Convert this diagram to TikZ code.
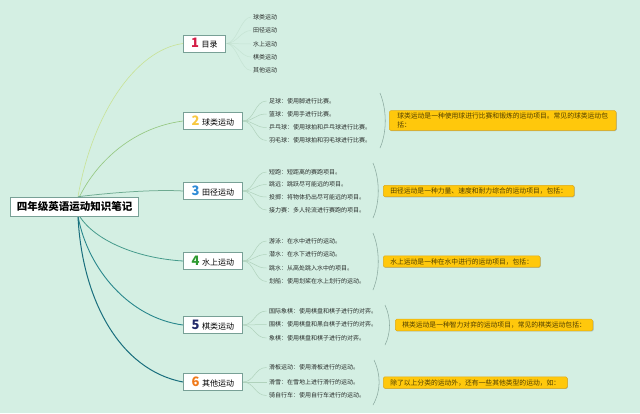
\documentclass[tikz,border=0pt]{standalone}
\usepackage{fontspec}
\setmainfont{Noto Sans CJK SC}
\usetikzlibrary{shadows}
\definecolor{bgc}{RGB}{212,239,227}
\definecolor{boxline}{RGB}{120,160,150}
\definecolor{leaftext}{RGB}{40,44,42}
\definecolor{calloutfill}{RGB}{255,200,12}
\definecolor{calloutline}{RGB}{225,170,20}
\definecolor{callouttext}{RGB}{80,62,0}
\definecolor{twigc}{RGB}{176,210,188}
\definecolor{bracec}{RGB}{140,170,160}
\definecolor{ca}{RGB}{200,226,150}
\definecolor{cb}{RGB}{150,200,130}
\definecolor{cc}{RGB}{110,170,145}
\definecolor{cd}{RGB}{70,155,140}
\definecolor{ce}{RGB}{40,135,140}
\definecolor{cf}{RGB}{25,110,125}
\definecolor{n1}{RGB}{212,30,70}
\definecolor{n2}{RGB}{248,200,64}
\definecolor{n3}{RGB}{45,138,214}
\definecolor{n4}{RGB}{46,154,48}
\definecolor{n5}{RGB}{35,42,106}
\definecolor{n6}{RGB}{240,122,26}
\newcommand\bnum[2]{{\fontsize{13}{13}\selectfont\bfseries\color{#1}#2}\hspace{2.5pt}}
\pgfdeclarelayer{bglayer}
\pgfdeclarelayer{lines}
\pgfsetlayers{bglayer,lines,main}
\begin{document}
\begin{tikzpicture}[x=1pt,y=-1pt,
  shd/.style={drop shadow={shadow xshift=0.7pt,shadow yshift=-0.7pt,fill=black,opacity=0.22}},
  central/.style={draw=boxline,fill=white,line width=0.6pt,inner xsep=6.5pt,minimum height=19pt,font=\fontsize{10.5}{12}\selectfont\bfseries,shd},
  branch/.style={draw=boxline,fill=white,line width=0.6pt,minimum height=17pt,inner xsep=0pt,inner ysep=1pt,anchor=west,font=\fontsize{8}{9}\selectfont,shd},
  leaf/.style={anchor=west,inner sep=0pt,font=\fontsize{6}{7}\selectfont,text=leaftext},
  callout/.style={anchor=west,fill=calloutfill,draw=calloutline,line width=0.5pt,rounded corners=1.5pt,inner xsep=7pt,inner ysep=2.5pt,font=\fontsize{6.8}{8.5}\selectfont,text=callouttext,align=left,shd},
  twig/.style={draw=twigc,line width=0.5pt},
  brk/.style={draw=bracec,line width=0.55pt},
]
\begin{pgfonlayer}{bglayer}
\fill[bgc] (0,0) rectangle (640,413);
\end{pgfonlayer}
\useasboundingbox (0,0) rectangle (640,413);

% central
\node[central] (c) at (74.5,206.5) {四年级英语运动知识笔记};

% branches
\node[branch,minimum width=42pt] (b1) at (183,43.5) {\bnum{n1}{1}目录};
\node[branch,minimum width=59pt] (b2) at (183,121) {\bnum{n2}{2}球类运动};
\node[branch,minimum width=59pt] (b3) at (183,191) {\bnum{n3}{3}田径运动};
\node[branch,minimum width=59pt] (b4) at (183,261) {\bnum{n4}{4}水上运动};
\node[branch,minimum width=59pt] (b5) at (183,325) {\bnum{n5}{5}棋类运动};
\node[branch,minimum width=59pt] (b6) at (183,382) {\bnum{n6}{6}其他运动};

% leaves of 1
\node[leaf] (l11) at (253,17) {球类运动};
\node[leaf] (l12) at (253,30.5) {田径运动};
\node[leaf] (l13) at (253,44) {水上运动};
\node[leaf] (l14) at (253,57) {棋类运动};
\node[leaf] (l15) at (253,70.5) {其他运动};
% leaves of 2
\node[leaf] (l21) at (269,101) {足球：使用脚进行比赛。};
\node[leaf] (l22) at (269,114) {篮球：使用手进行比赛。};
\node[leaf] (l23) at (269,127.5) {乒乓球：使用球拍和乒乓球进行比赛。};
\node[leaf] (l24) at (269,140.5) {羽毛球：使用球拍和羽毛球进行比赛。};
% leaves of 3
\node[leaf] (l31) at (269,172) {短跑：短距离的赛跑项目。};
\node[leaf] (l32) at (269,184.5) {跳远：跳跃尽可能远的项目。};
\node[leaf] (l33) at (269,197) {投掷：将物体扔出尽可能远的项目。};
\node[leaf] (l34) at (269,210) {接力赛：多人轮流进行赛跑的项目。};
% leaves of 4
\node[leaf] (l41) at (269,241) {游泳：在水中进行的运动。};
\node[leaf] (l42) at (269,254.5) {潜水：在水下进行的运动。};
\node[leaf] (l43) at (269,268) {跳水：从高处跳入水中的项目。};
\node[leaf] (l44) at (269,281.5) {划船：使用划桨在水上划行的运动。};
% leaves of 5
\node[leaf] (l51) at (269,311) {国际象棋：使用棋盘和棋子进行的对弈。};
\node[leaf] (l52) at (269,324.5) {围棋：使用棋盘和黑白棋子进行的对弈。};
\node[leaf] (l53) at (269,338) {象棋：使用棋盘和棋子进行的对弈。};
% leaves of 6
\node[leaf] (l61) at (269,367.5) {滑板运动：使用滑板进行的运动。};
\node[leaf] (l62) at (269,382) {滑雪：在雪地上进行滑行的运动。};
\node[leaf] (l63) at (269,395.5) {骑自行车：使用自行车进行的运动。};

% callouts
\node[callout,inner xsep=8pt] (k2) at (389,120.5) {球类运动是一种使用球进行比赛和锻炼的运动项目。常见的球类运动包\\括：};
\node[callout] (k3) at (383,191) {田径运动是一种力量、速度和耐力综合的运动项目，包括：};
\node[callout] (k4) at (383,261.5) {水上运动是一种在水中进行的运动项目，包括：};
\node[callout] (k5) at (395,325) {棋类运动是一种智力对弈的运动项目，常见的棋类运动包括：};
\node[callout] (k6) at (383,382.5) {除了以上分类的运动外，还有一些其他类型的运动，如：};

\begin{pgfonlayer}{lines}
% main connectors
\draw[ca,line width=0.6pt] ([xshift=3.5pt]c.north) .. controls (92,115) and (135,50) .. (b1.west);
\draw[cb,line width=0.65pt] ([xshift=5pt]c.north) .. controls (95,165) and (130,128) .. (b2.west);
\draw[cc,line width=0.75pt] ([xshift=3.5pt]c.north) .. controls (100,194) and (150,189) .. (b3.west);
\draw[cd,line width=0.8pt] ([xshift=5pt]c.south) .. controls (95,240) and (135,258) .. (b4.west);
\draw[ce,line width=0.9pt] ([xshift=3.5pt]c.south) .. controls (88,270) and (130,318) .. (b5.west);
\draw[cf,line width=1pt] ([xshift=3.5pt]c.south) .. controls (82,300) and (120,370) .. (b6.west);

% twigs
\foreach \l in {l11,l12,l13,l14,l15}
  \draw[twig,opacity=0.4] ([xshift=1pt]b1.east) .. controls +(10,0) and +(-10,0) .. ([xshift=-2pt]\l.west);
\foreach \l in {l21,l22,l23,l24}
  \draw[twig] (b2.east) .. controls +(12,0) and +(-12,0) .. ([xshift=-2.5pt]\l.west);
\foreach \l in {l31,l32,l33,l34}
  \draw[twig] (b3.east) .. controls +(12,0) and +(-12,0) .. ([xshift=-2.5pt]\l.west);
\foreach \l in {l41,l42,l43,l44}
  \draw[twig] (b4.east) .. controls +(12,0) and +(-12,0) .. ([xshift=-2.5pt]\l.west);
\foreach \l in {l51,l52,l53}
  \draw[twig] (b5.east) .. controls +(12,0) and +(-12,0) .. ([xshift=-2.5pt]\l.west);
\foreach \l in {l61,l62,l63}
  \draw[twig] (b6.east) .. controls +(12,0) and +(-12,0) .. ([xshift=-2.5pt]\l.west);

% brackets
\draw[brk] (380,93) .. controls (387,110) and (387,132) .. (380,148);
\draw[brk] (373,163) .. controls (380,180) and (380,202) .. (373,218);
\draw[brk] (373,233) .. controls (380,250) and (380,273) .. (373,290);
\draw[brk] (385,305) .. controls (391,318) and (391,333) .. (385,345);
\draw[brk] (374,360) .. controls (381,375) and (381,391) .. (373,405);
\end{pgfonlayer}
\end{tikzpicture}
\end{document}
